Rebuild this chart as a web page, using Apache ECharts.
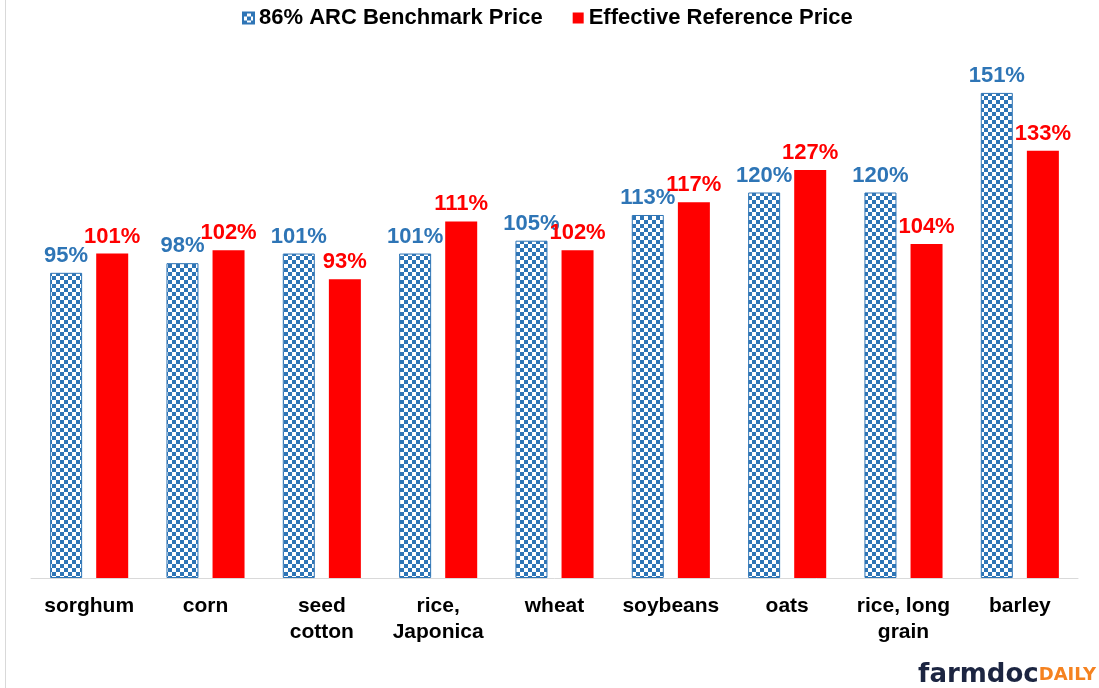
<!DOCTYPE html>
<html>
<head>
<meta charset="utf-8">
<script src="https://cdn.jsdelivr.net/npm/echarts@6/dist/echarts.min.js"></script>
<style>html,body{margin:0;padding:0;background:#fff}#c{width:1099px;height:688px}</style>
</head>
<body>
<div id="c"></div>
<script>
var categories = ['sorghum','corn','seed\ncotton','rice,\nJaponica','wheat','soybeans','oats','rice, long\ngrain','barley'];
var arcBenchmark = [95,98,101,101,105,113,120,120,151];
var effectiveRef = [101,102,93,111,102,117,127,104,133];
var seriesNames = ['86% ARC Benchmark Price','Effective Reference Price'];

var BLUE = '#2E75B6';
var cv = document.createElement('canvas');
cv.width = 8; cv.height = 8;
var cx = cv.getContext('2d');
cx.fillStyle = '#ffffff'; cx.fillRect(0,0,8,8);
cx.fillStyle = BLUE;
cx.fillRect(0,0,4,4); cx.fillRect(4,4,4,4);
var checker = {image: cv, repeat: 'repeat'};

var chart = echarts.init(document.getElementById('c'), null, {renderer:'canvas'});
var font = '"Liberation Sans", Arial, sans-serif';
chart.setOption({
  animation: false,
  backgroundColor: '#fff',
  textStyle: {fontFamily: font},
  legend: {
    top: 2, left: 237, icon: 'rect',
    itemWidth: 11, itemHeight: 11, itemGap: 30,
    textStyle: {fontSize: 22, fontWeight: 'bold', color: '#000', fontFamily: font},
    data: seriesNames
  },
  grid: {left: 31, right: 21, top: 64, bottom: 110},
  xAxis: {
    type: 'category', data: categories,
    axisLine: {lineStyle: {color: '#d9d9d9', width: 1}},
    axisTick: {show: false},
    axisLabel: {fontSize: 21, fontWeight: 'bold', color: '#000', margin: 15, lineHeight: 26, interval: 0, fontFamily: font}
  },
  yAxis: {type: 'value', min: 0, max: 160, show: false, splitLine: {show: false}},
  series: [
    {
      name: seriesNames[0], type: 'bar', data: arcBenchmark,
      barWidth: 32, barGap: '44%',
      itemStyle: {color: checker, borderColor: BLUE, borderWidth: 1},
      label: {show: true, position: 'top', distance: 6, formatter: '{c}%', color: BLUE, fontSize: 22, fontWeight: 'bold', fontFamily: font}
    },
    {
      name: seriesNames[1], type: 'bar', data: effectiveRef,
      barWidth: 32,
      itemStyle: {color: '#FF0000'},
      label: {show: true, position: 'top', distance: 6, formatter: '{c}%', color: '#FF0000', fontSize: 22, fontWeight: 'bold', fontFamily: font}
    }
  ],
  graphic: [
    {type: 'line', shape: {x1: 5.5, y1: 0, x2: 5.5, y2: 688}, style: {stroke: '#d9d9d9', lineWidth: 1}},
    {type: 'text', right: 3, bottom: 0, style: {
      text: '{a|farmdoc}{b|DAILY}',
      rich: {
        a: {fontSize: 26, fontWeight: 'bold', fill: '#1c2541', fontFamily: '"DejaVu Sans", sans-serif'},
        b: {fontSize: 18, fontWeight: 'bold', fill: '#f58220', fontFamily: '"DejaVu Sans", sans-serif'}
      }
    }}
  ]
});
</script>
</body>
</html>
